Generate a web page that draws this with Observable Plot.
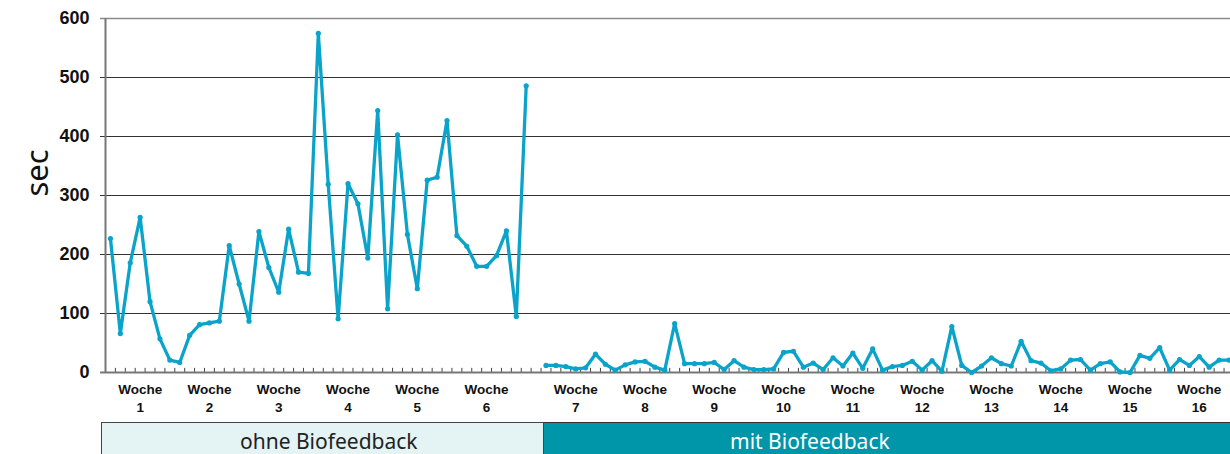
<!DOCTYPE html>
<html>
<head>
<meta charset="utf-8">
<script src="https://cdn.jsdelivr.net/npm/d3@7"></script>
<script src="https://cdn.jsdelivr.net/npm/@observablehq/plot@0.6"></script>
<style>
  html, body { margin: 0; padding: 0; background: #fff; }
  #wrap { position: relative; width: 1230px; height: 454px; overflow: hidden; font-family: "Liberation Sans", Arial, sans-serif; }
  .phase { position: absolute; top: 422px; height: 40px; box-sizing: border-box; }
  .phase span { position: absolute; top: 4px; font-family: "Noto Sans", sans-serif; font-size: 21px; white-space: nowrap; }
  #ohne { left: 101px; width: 443px; background: #e4f3f3; border-top: 1.5px solid #444; border-left: 1.5px solid #444; border-right: 1.5px solid #444; }
  #ohne span { left: 138px; color: #222; }
  #mit { left: 544px; width: 700px; background: #0096aa; border-top: 1.5px solid #333; }
  #mit span { left: 186px; color: #fff; }
</style>
</head>
<body>
<div id="wrap">
  <div id="chart"></div>
  <div class="phase" id="ohne"><span>ohne Biofeedback</span></div>
  <div class="phase" id="mit"><span>mit Biofeedback</span></div>
</div>
<script>
// Daily values (seconds), phase without biofeedback (weeks 1-6)
const phase1Values = [227, 66, 186, 263, 120, 57, 21, 17, 63, 81, 84, 87, 215, 150, 87, 239, 178, 136, 243, 170, 168,
  575, 319, 91, 320, 286, 194, 444, 108, 403, 234, 142, 326, 331, 427, 232, 214, 180, 180, 198, 240, 95, 486];
// Daily values (seconds), phase with biofeedback (weeks 7-16)
const phase2Values = [12, 12, 10, 6, 8, 31, 14, 4, 13, 18, 19, 9, 4, 83, 15, 15, 15, 17, 5, 20, 9, 5, 5, 6,
  34, 36, 9, 16, 5, 25, 11, 33, 7, 40, 4, 10, 12, 19, 4, 20, 2, 78, 12, 0, 11, 25, 15, 11, 53, 20, 16, 3,
  6, 21, 22, 4, 15, 18, 1, 0, 29, 24, 42, 4, 22, 12, 27, 9, 21, 21];
const gapDays = 1;
const daysPerWeek = 7;
const phase1Weeks = ["1", "2", "3", "4", "5", "6"];
const phase2Weeks = ["7", "8", "9", "10", "11", "12", "13", "14", "15", "16"];
const yTicks = [0, 100, 200, 300, 400, 500, 600];

const phase2Start = phase1Values.length + gapDays;
const data = [
  ...phase1Values.map((v, i) => ({day: i, value: v, phase: "ohne"})),
  ...phase2Values.map((v, i) => ({day: phase2Start + i, value: v, phase: "mit"}))
];
const lastDay = phase2Start + phase2Values.length - 1;
const xMax = lastDay + 0.15;
const weeks = [
  ...phase1Weeks.map((w, k) => ({pos: k * daysPerWeek + 3, label: w})),
  ...phase2Weeks.map((w, k) => ({pos: phase2Start + k * daysPerWeek + 3, label: w}))
];
const tickPos = d3.range(-0.5, xMax, 1);
const lineColor = "#0aa3ca";

const chart = Plot.plot({
  width: 1230,
  height: 420,
  marginLeft: 105,
  marginRight: 0,
  marginTop: 18,
  marginBottom: 48,
  x: {domain: [-0.5, xMax], axis: null},
  y: {domain: [0, 600], axis: null},
  style: {background: "transparent", fontFamily: "Liberation Sans, Arial, sans-serif", overflow: "visible"},
  marks: [
    Plot.ruleY(yTicks.filter(v => v > 0 && v < 600), {x1: -1, x2: xMax, stroke: "#333", strokeWidth: 1.2}),
    Plot.ruleY([600], {x1: -1, x2: xMax, stroke: "#8a8a8a", strokeWidth: 1.5}),
    Plot.ruleX(tickPos, {y1: 0, y2: 7, stroke: "#444", strokeWidth: 1}),
    Plot.ruleX([-0.5], {y1: 0, y2: 600, stroke: "#777", strokeWidth: 2}),
    Plot.ruleY([0], {x1: -1, x2: xMax, stroke: "#777", strokeWidth: 2}),
    Plot.text(yTicks, {x: -0.5, y: d => d, text: d => String(d), textAnchor: "end", dx: -16, fontWeight: "bold", fontSize: 18, fill: "#111"}),
    Plot.line(data, {x: "day", y: "value", z: "phase", stroke: lineColor, strokeWidth: 3.3}),
    Plot.dot(data, {x: "day", y: "value", r: 2.6, fill: lineColor}),
    Plot.text(weeks, {x: "pos", text: d => "Woche\n" + d.label, frameAnchor: "bottom", lineAnchor: "top", dy: 9, fontSize: 13.5, fontWeight: "bold", lineHeight: 1.3, fill: "#111"}),
    Plot.text(["sec"], {frameAnchor: "left", text: d => d, dx: -67, dy: 1, rotate: -90, fontSize: 31, fontFamily: "Noto Sans, sans-serif", fill: "#111"})
  ]
});
document.getElementById("chart").appendChild(chart);
</script>
</body>
</html>
